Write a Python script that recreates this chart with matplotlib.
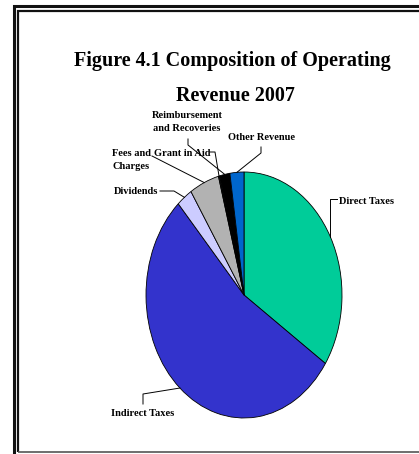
import numpy as np
import matplotlib
matplotlib.use("Agg")
import matplotlib.pyplot as plt
from matplotlib.lines import Line2D

# Operating revenue composition, 2007 (percent of total)
categories = ["Direct Taxes", "Indirect Taxes", "Dividends", "Fees and\nCharges",
              "Grant in Aid", "Reimbursement\nand Recoveries", "Other Revenue"]
shares = [34.4, 53.9, 2.6, 4.9, 0.2, 1.7, 2.3]
colors = ["#00CC99", "#3333CC", "#CCCCFF", "#B2B2B2", "#1A1A1A", "#000000", "#0066CC"]

W, H = 419, 454
fig = plt.figure(figsize=(W / 100, H / 100), dpi=100)
fig.patch.set_facecolor("white")
serif = ["Liberation Serif", "DejaVu Serif"]


def fx(x, y):
    """Pixel position (origin top-left) -> figure fraction."""
    return x / W, 1 - y / H


# double frame
def frame_line(xs, ys, lw, color="black"):
    pts = [fx(x, y) for x, y in zip(xs, ys)]
    fig.add_artist(Line2D([p[0] for p in pts], [p[1] for p in pts],
                          transform=fig.transFigure, color=color, lw=lw,
                          solid_joinstyle="miter", solid_capstyle="butt"))


frame_line([13.5, 13.5, 419], [460, 6, 6], 2.2, "#111111")
frame_line([18, 18, 419], [452, 10.5, 10.5], 1.6, "#111111")
frame_line([18, 419], [452, 452], 1.2, "#555555")

# title
fig.text(*fx(232, 61), "Figure 4.1 Composition of Operating", ha="center", va="center",
         fontsize=14.5, fontweight="bold", family=serif)
fig.text(*fx(235, 96), "Revenue 2007", ha="center", va="center",
         fontsize=14.5, fontweight="bold", family=serif)

# elliptical pie: centre (244, 295) px, radii 98 x 123 px
cx, cy, rx, ry = 244, 295, 98, 123
ax = fig.add_axes([(cx - rx) / W, 1 - (cy + ry) / H, 2 * rx / W, 2 * ry / H])
wedges, _ = ax.pie(shares, colors=colors, startangle=90, counterclock=False,
                   radius=1.0, wedgeprops=dict(edgecolor="black", linewidth=0.6))
ax.set_xlim(-1, 1)
ax.set_ylim(-1, 1)
ax.set_aspect("auto")
ax.axis("off")

inv = fig.transFigure.inverted()


def anchor(i):
    w = wedges[i]
    mid = np.deg2rad((w.theta1 + w.theta2) / 2)
    return inv.transform(ax.transData.transform((np.cos(mid), np.sin(mid))))


def leader(i, pts):
    a = anchor(i)
    p = [fx(x, y) for x, y in pts]
    xs = [q[0] for q in p] + [a[0]]
    ys = [q[1] for q in p] + [a[1]]
    fig.add_artist(Line2D(xs, ys, transform=fig.transFigure, color="black", lw=0.7))


lab = dict(fontsize=7.5, fontweight="bold", family=serif)

# label text positions (px) and leader elbows
fig.text(*fx(339, 201), categories[0], ha="left", va="center", **lab)
a0 = anchor(0)
leader(0, [(337, 199), (a0[0] * W, 199)])

fig.text(*fx(143, 414), categories[1], ha="center", va="center", **lab)
leader(1, [(143, 404), (143, 394)])

fig.text(*fx(158, 192), categories[2], ha="right", va="center", **lab)
leader(2, [(160, 191), (174, 191)])

fig.text(*fx(112, 160), categories[3], ha="left", va="center", linespacing=1.6, **lab)
leader(3, [(152, 156)])

fig.text(*fx(154, 153), categories[4], ha="left", va="center", **lab)
leader(4, [(210, 152), (215, 152)])

fig.text(*fx(187, 122), categories[5], ha="center", va="center", linespacing=1.6, **lab)
leader(5, [(188, 139), (188, 145)])

fig.text(*fx(228, 137), categories[6], ha="left", va="center", **lab)
leader(6, [(261, 147), (261, 153)])

fig.savefig("out.png", dpi=100, facecolor="white")
